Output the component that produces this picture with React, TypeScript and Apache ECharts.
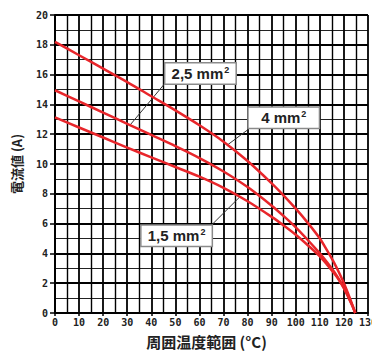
import React, { useEffect, useRef } from "react";
import * as echarts from "echarts";

const xTicks = [0, 10, 20, 30, 40, 50, 60, 70, 80, 90, 100, 110, 120, 130];
const yTicks = [0, 2, 4, 6, 8, 10, 12, 14, 16, 18, 20];

const temps = [0, 10, 20, 30, 40, 50, 60, 70, 80, 90, 95, 100, 105, 110, 113, 116, 118, 120, 122, 123.5, 124.7];
const amps4 = [18.2, 17.3, 16.4, 15.5, 14.55, 13.6, 12.6, 11.5, 10.2, 8.7, 7.88, 7.0, 6.05, 5.0, 4.2, 3.35, 2.7, 2.0, 1.2, 0.55, 0];
const amps25 = [14.95, 14.2, 13.45, 12.7, 11.95, 11.2, 10.4, 9.5, 8.45, 7.2, 6.5, 5.75, 4.9, 4.0, 3.4, 2.75, 2.25, 1.7, 1.05, 0.5, 0];
const amps15 = [13.13, 12.45, 11.78, 11.1, 10.45, 9.8, 9.15, 8.4, 7.5, 6.45, 5.87, 5.25, 4.55, 3.8, 3.25, 2.65, 2.2, 1.65, 1.0, 0.48, 0];

// annotation anchors in data coordinates: box center, pointer start, pointer end
const label4 = { text: "4 mm", box: [95, 13.1], from: [80.5, 12.35], to: [71.8, 11.3] };
const label25 = { text: "2,5 mm", box: [60.4, 16.07], from: [45.6, 15.4], to: [31.1, 12.6] };
const label15 = { text: "1,5 mm", box: [50.5, 5.18], from: [65, 5.9], to: [76.8, 7.8] };

const RED = "#e8262b";

function zip(xs: number[], ys: number[]) {
  return xs.map((x, i) => [x, ys[i]]);
}

function makeSeries(name: string, xs: number[], ys: number[], ann: any) {
  return {
    name,
    type: "line",
    data: zip(xs, ys),
    smooth: 0.3,
    showSymbol: false,
    symbol: "none",
    lineStyle: { color: RED, width: 2.5 },
    z: 5,
    markLine: {
      silent: true,
      symbol: ["none", "none"],
      label: { show: false },
      lineStyle: { color: "#333", width: 1, type: "solid" },
      data: [[{ coord: ann.from }, { coord: ann.to }]],
      z: 4,
    },
    markPoint: {
      silent: true,
      symbol: "rect",
      symbolSize: 1,
      itemStyle: { color: "transparent" },
      z: 10,
      data: [
        {
          coord: ann.box,
          label: {
            show: true,
            position: "inside",
            formatter: "{a|" + ann.text + "}{s|2}",
            backgroundColor: "#fff",
            borderColor: "#8a8a8a",
            borderWidth: 1.5,
            padding: [2, 6, 2, 6],
            width: 58,
            align: "center",
            rich: {
              a: {
                fontFamily: "Liberation Sans, Arial, sans-serif",
                fontWeight: "bold",
                fontSize: 15,
                color: "#222",
                lineHeight: 16,
              },
              s: {
                fontFamily: "Liberation Sans, Arial, sans-serif",
                fontWeight: "bold",
                fontSize: 9,
                color: "#222",
                padding: [0, 0, 7, 1],
              },
            },
          },
        },
      ],
    },
  };
}

export default function App() {
  const ref = useRef<HTMLDivElement>(null);
  useEffect(() => {
    document.body.style.margin = "0";
    if (!ref.current) return;
    const chart = echarts.init(ref.current, null, { renderer: "svg" });
    const tickFont = {
      fontFamily: "DejaVu Sans Mono, monospace",
      fontWeight: "bold",
      fontSize: 10,
      color: "#222",
    };
    chart.setOption({
      animation: false,
      backgroundColor: "#fff",
      grid: { left: 55, right: 4, top: 15, bottom: 38, containLabel: false, outerBoundsMode: "none" },
      xAxis: {
        type: "value",
        min: 0,
        max: 130,
        interval: 10,
        name: "周囲温度範囲 (°C)",
        nameLocation: "middle",
        nameGap: 21,
        nameTextStyle: {
          fontFamily: "Noto Sans CJK JP, sans-serif",
          fontWeight: "bold",
          fontSize: 15,
          color: "#222",
          padding: [0, 0, 0, -10],
        },
        axisLine: { show: true, lineStyle: { color: "#000", width: 2 } },
        axisTick: { show: true, length: 3, lineStyle: { color: "#000", width: 1.5 } },
        axisLabel: { ...tickFont, margin: 4, formatter: (v: number) => (xTicks.includes(v) ? String(v) : "") },
        splitLine: { show: true, lineStyle: { color: "#000", width: 1.8 } },
        minorTick: { show: false, splitNumber: 2 },
        minorSplitLine: { show: true, lineStyle: { color: "#000", width: 1.4 } },
      },
      yAxis: {
        type: "value",
        min: 0,
        max: 20,
        interval: 2,
        name: "電流値 (A)",
        nameLocation: "middle",
        nameGap: 32,
        nameRotate: 90,
        nameTextStyle: {
          fontFamily: "Noto Sans CJK JP, sans-serif",
          fontWeight: "bold",
          fontSize: 13,
          color: "#222",
        },
        axisLine: { show: true, lineStyle: { color: "#000", width: 2 } },
        axisTick: { show: true, length: 5, lineStyle: { color: "#000", width: 1.5 } },
        axisLabel: { ...tickFont, margin: 7, formatter: (v: number) => (yTicks.includes(v) ? String(v) : "") },
        splitLine: { show: true, lineStyle: { color: "#000", width: 2 } },
        minorTick: { show: false, splitNumber: 2 },
        minorSplitLine: { show: true, lineStyle: { color: "#222", width: 1.2 } },
      },
      series: [
        makeSeries("4 mm²", temps, amps4, label4),
        makeSeries("2,5 mm²", temps, amps25, label25),
        makeSeries("1,5 mm²", temps, amps15, label15),
      ],
    });
    return () => chart.dispose();
  }, []);
  return <div ref={ref} style={{ width: 372, height: 351 }} />;
}
